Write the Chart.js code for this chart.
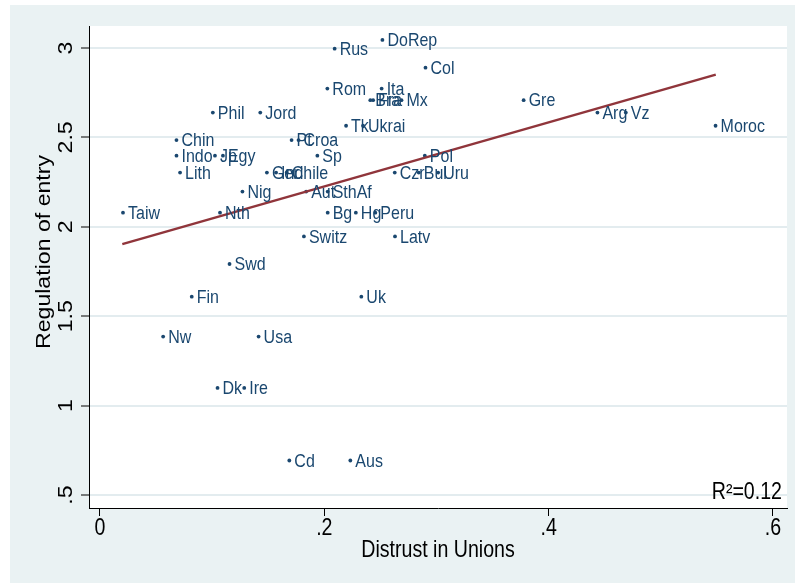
<!DOCTYPE html>
<html>
<head>
<meta charset="utf-8">
<script src="https://cdn.jsdelivr.net/npm/chart.js@4/dist/chart.umd.min.js"></script>
<style>
  html, body { margin: 0; padding: 0; background: #fff; }
  canvas { display: block; }
</style>
</head>
<body>
<canvas id="myChart" width="795" height="583"></canvas>
<script>
// countries, distrust in unions (x) and regulation of entry (y)
const countries = ['DoRep', 'Rus', 'Col', 'Rom', 'Ita', 'Bra', 'Fra', 'Mx', 'Gre',
  'Phil', 'Jord', 'Arg', 'Vz', 'Tk', 'Ukrai', 'Moroc', 'Chin', 'Pt', 'Croa',
  'Indo', 'Jp', 'Egy', 'Sp', 'Pol', 'Lith', 'Ger', 'Ind', 'Chile', 'Czr', 'Bul', 'Uru',
  'Nig', 'Aut', 'SthAf', 'Taiw', 'Nth', 'Bg', 'Hg', 'Peru', 'Switz', 'Latv',
  'Swd', 'Fin', 'Uk', 'Nw', 'Usa', 'Dk', 'Ire', 'Cd', 'Aus'];
const distrust = [0.2518, 0.2092, 0.2902, 0.2027, 0.2511, 0.2410, 0.2435, 0.2688, 0.3777,
  0.1006, 0.1429, 0.4435, 0.4688, 0.2194, 0.2345, 0.5488, 0.0682, 0.1708, 0.1770,
  0.0682, 0.1025, 0.1096, 0.1938, 0.2896, 0.0714, 0.1488, 0.1570, 0.1665, 0.2628, 0.2842, 0.3015,
  0.1270, 0.1838, 0.2030, 0.0205, 0.1070, 0.2030, 0.2281, 0.2455, 0.1818, 0.2630,
  0.1155, 0.0818, 0.2330, 0.0563, 0.1414, 0.1048, 0.1286, 0.1688, 0.2232];
const regulation = [3.045, 2.996, 2.890, 2.773, 2.773, 2.708, 2.708, 2.708, 2.708,
  2.639, 2.639, 2.639, 2.639, 2.565, 2.565, 2.565, 2.485, 2.485, 2.485,
  2.398, 2.398, 2.398, 2.398, 2.398, 2.303, 2.303, 2.303, 2.303, 2.303, 2.303, 2.303,
  2.197, 2.197, 2.197, 2.079, 2.079, 2.079, 2.079, 2.079, 1.946, 1.946,
  1.792, 1.609, 1.609, 1.386, 1.386, 1.099, 1.099, 0.693, 0.693];

// fitted line end points
const fitX = [0.0199, 0.5490];
const fitY = [1.903, 2.851];

const xTicks = [0, 0.2, 0.4, 0.6];
const xTickLabels = ['0', '.2', '.4', '.6'];
const yTicks = [0.5, 1, 1.5, 2, 2.5, 3];
const yTickLabels = ['.5', '1', '1.5', '2', '2.5', '3'];
const r2Text = 'R²=0.12';

const FONT = '"Liberation Sans", Arial, sans-serif';
const NAVY = '#1a476f';
const STRETCH = 1.18; // the picture's text is a bit taller than it is wide

// draws text stretched vertically (in screen space), optionally rotated
function drawText(ctx, text, x, y, rotate) {
  ctx.save();
  ctx.translate(x, y);
  ctx.scale(1, STRETCH);
  if (rotate) ctx.rotate(-Math.PI / 2);
  ctx.fillText(text, 0, 0);
  ctx.restore();
}

const bgPlugin = {
  id: 'bg',
  beforeDraw(chart) {
    const ctx = chart.ctx;
    const a = chart.chartArea;
    ctx.save();
    ctx.fillStyle = '#ffffff';
    ctx.fillRect(0, 0, chart.width, chart.height);
    ctx.fillStyle = '#eaf2f3';
    ctx.fillRect(10, 5, chart.width - 10, chart.height - 5);
    ctx.fillStyle = '#ffffff';
    ctx.fillRect(a.left, a.top, a.right - a.left, a.bottom - a.top);
    ctx.restore();
  }
};

const textPlugin = {
  id: 'texts',
  afterDatasetsDraw(chart) {
    const ctx = chart.ctx;
    const xs = chart.scales.x;
    const ys = chart.scales.y;
    const a = chart.chartArea;
    ctx.save();

    // point labels
    ctx.fillStyle = NAVY;
    ctx.font = '16px ' + FONT;
    ctx.textAlign = 'left';
    ctx.textBaseline = 'middle';
    const meta = chart.getDatasetMeta(0);
    meta.data.forEach((pt, i) => {
      drawText(ctx, countries[i], pt.x + 5, pt.y + 1, false);
    });

    ctx.fillStyle = '#000';
    ctx.font = '19.6px ' + FONT;

    // x tick labels
    ctx.textAlign = 'center';
    ctx.textBaseline = 'middle';
    xTicks.forEach((v, i) => {
      drawText(ctx, xTickLabels[i], xs.getPixelForValue(v), a.bottom + 21, false);
    });

    // y tick labels (rotated)
    yTicks.forEach((v, i) => {
      drawText(ctx, yTickLabels[i], a.left - 22, ys.getPixelForValue(v), true);
    });

    // axis titles
    drawText(ctx, 'Distrust in Unions', (a.left + a.right) / 2, 551, false);
    drawText(ctx, 'Regulation of entry', 45, 252, true);

    // R squared
    ctx.textAlign = 'right';
    ctx.textBaseline = 'alphabetic';
    drawText(ctx, r2Text, a.right - 5, a.bottom - 9, false);

    ctx.restore();
  }
};

const scatterData = countries.map((c, i) => ({ x: distrust[i], y: regulation[i] }));
const fitData = fitX.map((x, i) => ({ x: x, y: fitY[i] }));

const config = {
  type: 'scatter',
  data: {
    datasets: [
      {
        label: 'countries',
        data: scatterData,
        pointRadius: 1.9,
        pointBackgroundColor: NAVY,
        pointBorderWidth: 0,
        order: 1
      },
      {
        type: 'line',
        label: 'fit',
        data: fitData,
        borderColor: '#90353b',
        borderWidth: 2.5,
        pointRadius: 0,
        fill: false,
        order: 0
      }
    ]
  },
  options: {
    responsive: false,
    animation: false,
    layout: { padding: { left: 0, top: 26, right: 8, bottom: 0 } },
    plugins: {
      legend: { display: false },
      tooltip: { enabled: false }
    },
    scales: {
      x: {
        type: 'linear',
        min: -0.0098,
        max: 0.6125,
        afterBuildTicks: (scale) => { scale.ticks = xTicks.map(v => ({ value: v })); },
        afterFit: (scale) => { scale.height = 75; },
        ticks: { display: false },
        grid: { drawOnChartArea: false, drawTicks: true, tickLength: 8, tickColor: '#000', tickWidth: 1 },
        border: { display: true, color: '#000', width: 1 }
      },
      y: {
        type: 'linear',
        min: 0.4273,
        max: 3.123,
        afterBuildTicks: (scale) => { scale.ticks = yTicks.map(v => ({ value: v })); },
        afterFit: (scale) => { scale.width = 89; },
        ticks: { display: false },
        grid: { color: '#e3ecef', lineWidth: 2, drawTicks: true, tickLength: 8, tickColor: '#000', tickWidth: 1 },
        border: { display: true, color: '#000', width: 1 }
      }
    }
  },
  plugins: [bgPlugin, textPlugin]
};

const myChart = new Chart(document.getElementById('myChart'), config);
</script>
</body>
</html>
